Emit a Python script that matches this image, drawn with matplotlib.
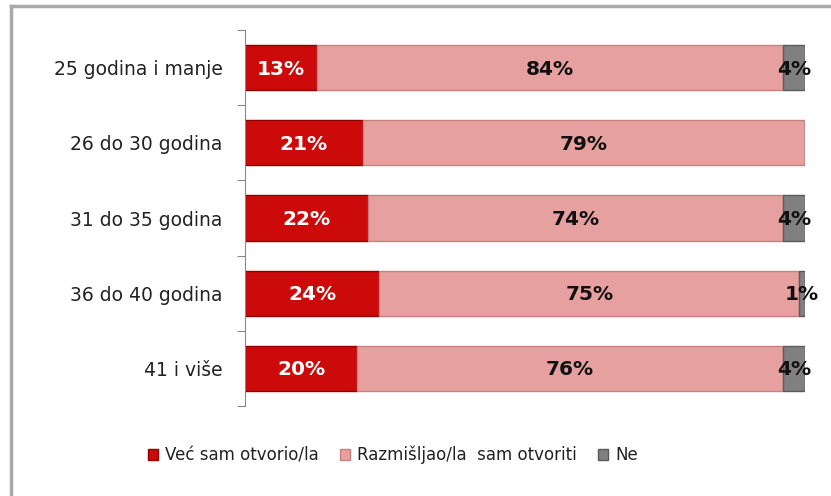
import matplotlib
matplotlib.use("Agg")
import matplotlib.pyplot as plt
import numpy as np

categories = ["25 godina i manje", "26 do 30 godina", "31 do 35 godina", "36 do 40 godina", "41 i više"]
vec_sam = [13, 21, 22, 24, 20]
razmisljao = [84, 79, 74, 75, 76]
ne = [4, 0, 4, 1, 4]
series_names = ["Već sam otvorio/la", "Razmišljao/la  sam otvoriti", "Ne"]

colors = ["#cc0a0a", "#e6a0a0", "#808080"]
edges = ["#8e0000", "#c98080", "#5a5a5a"]
txtcolors = ["white", "#111111", "#111111"]

fig = plt.figure(figsize=(8.31, 4.96), dpi=100)
ax = fig.add_axes([245/831, 1-406/496, 560/831, 376/496])

data = np.array([vec_sam, razmisljao, ne], dtype=float)
totals = data.sum(axis=0)
norm = data / totals * 100
y = np.arange(len(categories))
left = np.zeros(len(categories))
for i in range(3):
    ax.barh(y, norm[i], left=left, height=0.6, color=colors[i], edgecolor=edges[i],
            linewidth=1.0, label=series_names[i])
    for j in range(len(categories)):
        if data[i, j] > 0:
            ax.text(left[j] + norm[i, j] / 2, y[j] + 0.02, f"{int(data[i, j])}%", ha="center", va="center",
                    fontsize=14.5, fontweight="bold", color=txtcolors[i], family="DejaVu Sans")
    left += norm[i]

ax.set_xlim(0, 100)
ax.set_ylim(len(categories) - 0.5, -0.5)
ax.set_yticks(np.arange(-0.5, len(categories), 1.0), minor=False)
ax.set_yticklabels([])
ax.set_yticks(y, minor=True)
ax.set_yticklabels(categories, minor=True, fontsize=13.5, color="#222222")
ax.tick_params(axis="y", which="minor", length=0, pad=16)
ax.tick_params(axis="y", which="major", length=6, color="#888888", direction="out")
ax.set_xticks([])
for s in ["top", "right", "bottom"]:
    ax.spines[s].set_visible(False)
ax.spines["left"].set_color("#888888")

leg = fig.legend(loc="center", bbox_to_anchor=(393/831, 1-455/496), ncol=3, frameon=False,
                 fontsize=12, handlelength=0.6, handleheight=0.6, columnspacing=1.3,
                 handletextpad=0.4)
for t in leg.get_texts():
    t.set_color("#222222")

# outer border (chart frame)
fig.add_artist(plt.Line2D([11/831, 11/831], [0, 1-6/496], transform=fig.transFigure,
                          color="#a8a8a8", linewidth=2.5))
fig.add_artist(plt.Line2D([11/831, 1], [1-6/496, 1-6/496], transform=fig.transFigure,
                          color="#a8a8a8", linewidth=2.5))

fig.savefig("out.png", dpi=100)
